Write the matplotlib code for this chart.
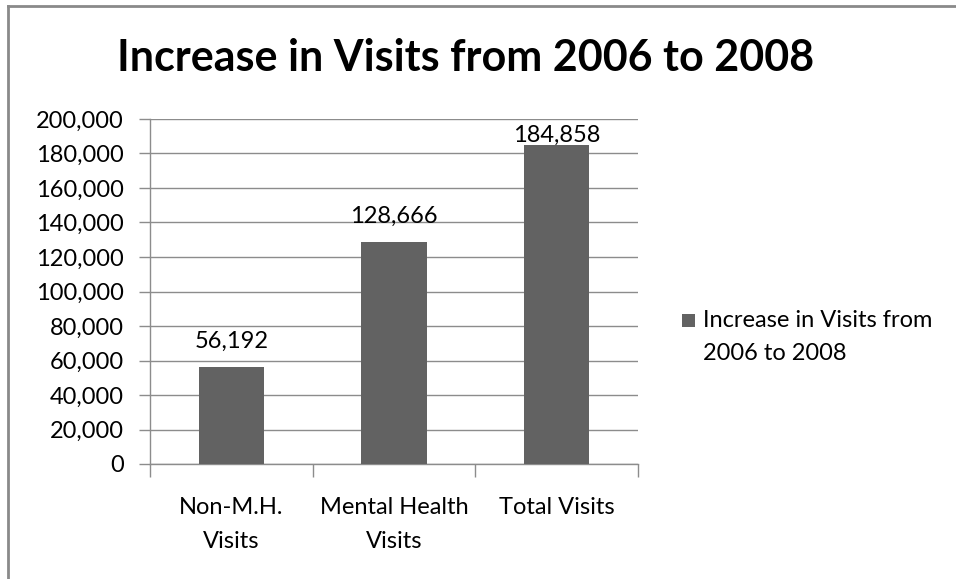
import matplotlib
matplotlib.use("Agg")
import matplotlib.pyplot as plt
from matplotlib.lines import Line2D
from matplotlib.patches import Rectangle
from matplotlib.ticker import FuncFormatter, MultipleLocator

plt.rcParams['font.family'] = ['Lato', 'DejaVu Sans']

categories = ["Non-M.H.\nVisits", "Mental Health\nVisits", "Total Visits"]
values = [56192, 128666, 184858]
series_name = "Increase in Visits from\n2006 to 2008"
title = "Increase in Visits from 2006 to 2008"

bar_color = "#626262"
grid_color = "#8c8c8c"
FS = 17
YMAX = 200000

fig = plt.figure(figsize=(9.56, 5.79), dpi=100)
ax_h_px = 345
ax = fig.add_axes([150/956, 1-464/579, 488/956, ax_h_px/579])

x = list(range(len(categories)))
ax.bar(x, values, width=0.4, color=bar_color, zorder=3)
ax.set_xlim(-0.5, len(categories)-0.5)
ax.set_ylim(0, YMAX)
ax.yaxis.set_major_locator(MultipleLocator(20000))
ax.yaxis.set_major_formatter(FuncFormatter(lambda v, p: f"{int(v):,}"))
ax.grid(axis='y', color=grid_color, linewidth=1, zorder=0)
ax.set_axisbelow(True)

for s in ['top', 'right']:
    ax.spines[s].set_visible(False)
for s in ['left', 'bottom']:
    ax.spines[s].set_color(grid_color)
    ax.spines[s].set_linewidth(1)

ax.set_xticks(x)
ax.set_xticklabels(categories, fontsize=FS, linespacing=1.75)
ax.tick_params(axis='x', which='major', length=0, pad=24)
ax.set_xticks([i - 0.5 for i in range(len(categories)+1)], minor=True)
ax.tick_params(axis='x', which='minor', length=9, color=grid_color, width=1, direction='out')
ax.tick_params(axis='y', length=8, color=grid_color, width=1, labelsize=FS, pad=11)

# data labels: above bar, kept inside the plot area (as Excel does)
for xi, v in zip(x, values):
    frac = min(v / YMAX + 19 / ax_h_px, 1 - 23 / ax_h_px)
    ax.text(xi, frac, f"{v:,}", transform=ax.get_xaxis_transform(),
            ha='center', va='baseline', fontsize=FS, zorder=4)

fig.text(466/956, 1-58/579, title, ha='center', va='center', fontsize=31, fontweight='bold')

# legend
fig.patches.append(Rectangle((682/956, 1-327/579), 13/956, 13/579, transform=fig.transFigure,
                             facecolor=bar_color, edgecolor='none'))
fig.text(703/956, 1-310/579, series_name, ha='left', va='top', fontsize=FS, linespacing=1.7)

# chart border (top and left visible)
fig.lines.append(Line2D([8/956, 1], [1-6/579, 1-6/579], transform=fig.transFigure, color='#8a8a8a', linewidth=2))
fig.lines.append(Line2D([8/956, 8/956], [0, 1-6/579], transform=fig.transFigure, color='#8a8a8a', linewidth=2))

fig.savefig("out.png", dpi=100)
